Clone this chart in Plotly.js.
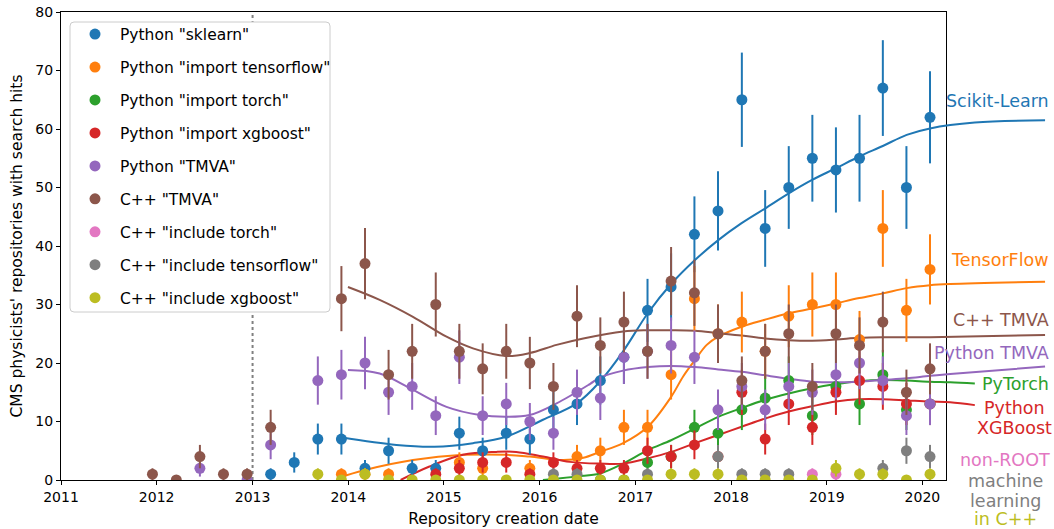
<!DOCTYPE html>
<html>
<head>
<meta charset="utf-8">
<script src="https://cdn.plot.ly/plotly-3.0.1.min.js"></script>
<style>html,body{margin:0;padding:0;background:#fff;}#chart{width:1054px;height:529px;}</style>
</head>
<body>
<div id="chart"></div>
<script>
// ---- bin dates (quarterly bins) ----
const dates = ['2011-12-16','2012-03-16','2012-06-14','2012-09-12','2012-12-11','2013-03-11','2013-06-09','2013-09-07','2013-12-06','2014-03-06','2014-06-04','2014-09-02','2014-12-01','2015-03-01','2015-05-29','2015-08-27','2015-11-25','2016-02-23','2016-05-23','2016-08-20','2016-11-18','2017-02-16','2017-05-17','2017-08-14','2017-11-12','2018-02-11','2018-05-11','2018-08-09','2018-11-07','2019-02-05','2019-05-06','2019-08-03','2019-11-01','2020-01-30'];

// ---- counts per bin (null = no point) ----
const pySklearn = [null,null,null,null,null,1,3,7,7,2,5,2,2,8,5,8,7,12,13,17,21,29,33,42,46,65,43,50,55,53,55,67,50,62];
const pyTensorflow = [null,null,null,null,null,null,null,null,1,1,1,null,null,3,2,null,2,null,4,5,9,9,18,31,25,27,22,28,30,30,24,43,29,36];
const pyTorch = [null,null,null,null,null,null,null,null,null,null,null,null,null,null,null,null,null,null,null,0,0,3,4,9,8,12,14,17,11,16,13,18,12,13];
const pyXgboost = [null,null,null,null,null,null,null,null,null,null,null,null,1,2,3,3,1,3,2,2,2,5,4,6,4,15,7,13,9,15,17,16,13,13];
const pyTMVA = [null,null,2,null,0,6,null,17,18,20,15,16,11,21,11,13,10,8,15,14,21,22,23,21,12,16,12,16,15,18,20,17,11,13];
const cppTMVA = [1,0,4,1,1,9,null,null,31,37,18,22,30,22,19,22,20,16,28,23,27,22,34,32,25,17,22,25,16,25,23,27,15,19];
const cppTorch = [null,null,null,null,null,null,null,null,null,null,null,null,null,null,null,null,null,null,null,null,null,null,null,null,null,null,null,null,1,1,null,null,null,null];
const cppTensorflow = [null,null,null,null,null,null,null,null,null,null,null,null,null,null,null,null,null,1,1,null,null,1,null,null,4,1,1,1,null,null,null,2,5,4];
const cppXgboost = [null,null,null,null,null,null,null,1,0,1,0,0,0,0,0,0,0,0,0,0,0,0,1,1,1,0,0,0,0,2,1,1,0,1];

const seriesNames = ['Python "sklearn"','Python "import tensorflow"','Python "import torch"','Python "import xgboost"','Python "TMVA"','C++ "TMVA"','C++ "include torch"','C++ "include tensorflow"','C++ "include xgboost"'];
const seriesColors = ['#1f77b4','#ff7f0e','#2ca02c','#d62728','#9467bd','#8c564b','#e377c2','#7f7f7f','#bcbd22'];
const seriesValues = [pySklearn,pyTensorflow,pyTorch,pyXgboost,pyTMVA,cppTMVA,cppTorch,cppTensorflow,cppXgboost];

// ---- smooth trend curves ----
const sklearnCurveX = ['2013-12-03','2014-07-04','2014-11-26','2015-04-22','2015-08-27','2016-01-14','2016-05-22','2016-08-18','2016-11-15','2017-02-17','2017-05-17','2017-08-16','2017-11-13','2018-02-10','2018-05-10','2018-08-09','2018-11-06','2019-02-05','2019-05-05','2019-08-03','2019-11-02','2020-01-30','2020-07-19','2021-04-13'];
const sklearnCurveY = [7.3,6.0,5.7,6.3,7.4,10.3,13.1,16.8,22.0,28.5,33.5,37.6,41.0,43.9,46.4,49.0,51.3,53.3,55.3,57.1,59.0,60.1,61.1,61.5];
const tfCurveX = ['2013-11-20','2014-03-06','2014-09-05','2015-03-15','2015-08-27','2015-11-24','2016-04-01','2016-06-16','2016-08-18','2016-11-15','2017-02-17','2017-05-17','2017-07-02','2017-08-16','2017-09-30','2017-11-13','2018-02-10','2018-05-10','2018-08-09','2018-11-06','2019-02-05','2019-05-05','2019-08-03','2019-11-02','2020-01-30','2020-04-16','2021-04-13'];
const tfCurveY = [0.3,1.7,3.4,4.3,4.3,4.0,3.4,3.8,4.8,6.3,9.1,14.2,17.7,20.5,23.1,24.5,26.2,27.4,28.5,29.3,30.2,31.1,31.9,32.8,33.3,33.5,33.9];
const torchCurveX = ['2016-01-14','2016-05-22','2016-08-18','2016-11-15','2017-02-17','2017-05-17','2017-08-16','2017-11-13','2018-02-10','2018-05-10','2018-08-09','2018-11-06','2019-02-05','2019-05-05','2019-08-03','2019-11-02','2020-01-30','2020-04-16','2020-07-19'];
const torchCurveY = [0.0,0.6,1.1,2.8,5.1,6.8,8.8,10.8,12.3,13.7,14.8,15.7,16.4,16.9,17.1,17.0,16.8,16.7,16.5];
const xgbCurveX = ['2014-07-20','2014-11-07','2015-03-15','2015-07-20','2015-10-04','2016-01-14','2016-04-26','2016-08-18','2016-11-15','2017-02-17','2017-05-17','2017-08-16','2017-11-13','2018-02-10','2018-05-10','2018-08-09','2018-11-06','2019-02-05','2019-05-05','2019-08-03','2019-11-02','2020-01-30','2020-04-16','2020-07-19'];
const xgbCurveY = [0.0,2.3,4.3,4.8,4.8,4.0,3.1,2.8,2.8,3.7,4.8,6.3,7.7,9.1,10.5,11.7,12.6,13.4,13.8,13.8,13.6,13.4,13.3,12.8];
const cppTMVACurveX = ['2013-12-31','2014-05-01','2014-09-05','2015-01-11','2015-04-22','2015-08-27','2015-11-24','2016-03-06','2016-06-16','2016-11-15','2017-02-17','2017-05-17','2017-08-16','2017-11-13','2018-02-10','2018-05-10','2018-08-09','2018-11-06','2019-02-05','2019-05-05','2019-08-03','2019-11-02','2020-01-30','2021-04-13'];
const cppTMVACurveY = [33.0,30.8,27.9,24.5,22.5,21.2,21.7,23.1,24.2,25.4,25.6,25.6,25.5,25.1,24.7,24.2,23.9,23.8,24.0,24.3,24.4,24.4,24.4,24.8];
const pyTMVACurveX = ['2013-12-31','2014-05-01','2014-09-05','2015-01-11','2015-05-18','2015-08-27','2015-11-24','2016-03-06','2016-07-11','2016-08-18','2016-11-15','2017-02-17','2017-05-17','2017-08-16','2017-11-13','2018-02-10','2018-05-10','2018-08-09','2018-11-06','2019-02-05','2019-05-05','2019-08-03','2019-11-02','2020-01-30','2020-04-16','2021-04-13'];
const pyTMVACurveY = [18.8,18.2,15.4,12.5,11.1,10.8,11.1,13.1,16.4,17.5,18.7,19.3,19.5,19.3,18.9,18.5,17.9,17.3,16.8,16.7,16.8,17.1,17.4,17.8,18.1,19.4];

const curves = [
  {x: sklearnCurveX, y: sklearnCurveY, c: '#1f77b4'},
  {x: tfCurveX, y: tfCurveY, c: '#ff7f0e'},
  {x: torchCurveX, y: torchCurveY, c: '#2ca02c'},
  {x: xgbCurveX, y: xgbCurveY, c: '#d62728'},
  {x: pyTMVACurveX, y: pyTMVACurveY, c: '#9467bd'},
  {x: cppTMVACurveX, y: cppTMVACurveY, c: '#8c564b'}
];

// ---- right-hand curve labels ----
const sideLabels = [
  {t: 'Scikit-Learn', c: '#1f77b4', x: 1051, y: 101, a: 'right'},
  {t: 'TensorFlow', c: '#ff7f0e', x: 1051, y: 260, a: 'right'},
  {t: 'C++ TMVA', c: '#8c564b', x: 1051, y: 320, a: 'right'},
  {t: 'Python TMVA', c: '#9467bd', x: 1051, y: 353, a: 'right'},
  {t: 'PyTorch', c: '#2ca02c', x: 1051, y: 384, a: 'right'},
  {t: 'Python', c: '#d62728', x: 1014, y: 408, a: 'center'},
  {t: 'XGBoost', c: '#d62728', x: 1014, y: 428, a: 'center'},
  {t: 'non-ROOT', c: '#e377c2', x: 1005, y: 460, a: 'center'},
  {t: 'machine', c: '#7f7f7f', x: 1005, y: 481, a: 'center'},
  {t: 'learning', c: '#7f7f7f', x: 1005, y: 501, a: 'center'},
  {t: 'in C++', c: '#bcbd22', x: 1005, y: 519, a: 'center'}
];

const cutoffDate = '2013-01-01';
const xStart = '2011-01-01', xEnd = '2020-03-31';

// geometry
const W = 1054, H = 529, ML = 61, MR = 8, MT = 12, MB = 49;
const plotW = W - ML - MR;
const plotH = H - MT - MB;
const axisRight = 946;
const domX = (axisRight - ML) / plotW;
const r0 = Date.parse(xStart), r1 = Date.parse(xEnd);
const r2 = r0 + (r1 - r0) / domX;
const x2End = new Date(r2).toISOString().slice(0, 19).replace('T', ' ');
const px2paperX = (px) => (px - ML) / plotW;
const py2paperY = (py) => (H - MB - py) / plotH;

const traces = [];
traces.push({x: [], y: [], xaxis: 'x', yaxis: 'y', type: 'scatter', mode: 'markers', showlegend: false, hoverinfo: 'skip'});
curves.forEach(cv => traces.push({
  x: cv.x, y: cv.y, xaxis: 'x2', yaxis: 'y2', type: 'scatter', mode: 'lines',
  line: {color: cv.c, width: 2, shape: 'spline', smoothing: 1}, showlegend: false, hoverinfo: 'skip'
}));
seriesValues.forEach((vals, i) => traces.push({
  x: dates, y: vals, name: seriesNames[i], legendgroup: 'g' + i, xaxis: 'x2', yaxis: 'y2', type: 'scatter', mode: 'markers',
  marker: {color: seriesColors[i], size: 11},
  error_y: {type: 'sqrt', visible: true, color: seriesColors[i], thickness: 2, width: 0}
}));

// legend frame (rounded box)
const bx0 = px2paperX(70), bx1 = px2paperX(330), by1 = py2paperY(22), by0 = py2paperY(312);
const rx = 4 / plotW, ry = 4 / plotH;
const boxPath = `M ${bx0+rx},${by1} L ${bx1-rx},${by1} Q ${bx1},${by1} ${bx1},${by1-ry} L ${bx1},${by0+ry} Q ${bx1},${by0} ${bx1-rx},${by0} L ${bx0+rx},${by0} Q ${bx0},${by0} ${bx0},${by0+ry} L ${bx0},${by1-ry} Q ${bx0},${by1} ${bx0+rx},${by1} Z`;

const tickFont = {family: 'DejaVu Sans', size: 14, color: '#000'};
const titleFont = {family: 'DejaVu Sans', size: 15.5, color: '#000'};

const layout = {
  width: W, height: H,
  margin: {l: ML, r: MR, t: MT, b: MB, pad: 0},
  paper_bgcolor: '#ffffff', plot_bgcolor: 'rgba(0,0,0,0)',
  showlegend: true,
  xaxis: {
    domain: [0, domX], type: 'date', range: [xStart, xEnd], tickformat: '%Y', dtick: 'M12', tick0: '2011-01-01',
    ticks: 'outside', ticklen: 4, tickwidth: 1, tickcolor: '#000', showline: true, mirror: true, linecolor: '#000', linewidth: 1,
    showgrid: false, zeroline: false, tickfont: tickFont, automargin: false,
    title: {text: 'Repository creation date', font: titleFont, standoff: 9}
  },
  yaxis: {
    domain: [0, 1], range: [0, 80], dtick: 10, ticks: 'outside', ticklen: 4, tickwidth: 1, tickcolor: '#000',
    showline: true, mirror: true, linecolor: '#000', linewidth: 1, showgrid: false, zeroline: false,
    tickfont: tickFont, automargin: false,
    title: {text: "CMS physicists' repositories with search hits", font: titleFont, standoff: 8}
  },
  xaxis2: {domain: [0, 1], anchor: 'y2', type: 'date', range: [xStart, x2End], visible: false, showgrid: false, zeroline: false},
  yaxis2: {domain: [0, 1], anchor: 'x2', range: [0, 80], visible: false, showgrid: false, zeroline: false},
  legend: {
    x: px2paperX(70), y: py2paperY(17.5), xanchor: 'left', yanchor: 'top',
    bgcolor: 'rgba(0,0,0,0)', borderwidth: 0,
    font: {family: 'DejaVu Sans', size: 15.5, color: '#000'},
    tracegroupgap: 9.8, traceorder: 'grouped', itemwidth: 40
  },
  shapes: [
    {type: 'line', xref: 'x', yref: 'paper', x0: cutoffDate, x1: cutoffDate, y0: 0, y1: 1,
     line: {color: '#808080', width: 2, dash: 'dot'}, layer: 'below'},
    {type: 'path', xref: 'paper', yref: 'paper', path: boxPath, fillcolor: '#ffffff',
     line: {color: '#cccccc', width: 1}, layer: 'above'}
  ],
  annotations: sideLabels.map(s => ({
    text: s.t, x: px2paperX(s.x), y: py2paperY(s.y), xref: 'paper', yref: 'paper',
    xanchor: s.a, yanchor: 'middle', showarrow: false,
    font: {family: 'DejaVu Sans', size: 17.5, color: s.c}
  }))
};

Plotly.newPlot('chart', traces, layout, {displayModeBar: false, staticPlot: true});
</script>
</body>
</html>
